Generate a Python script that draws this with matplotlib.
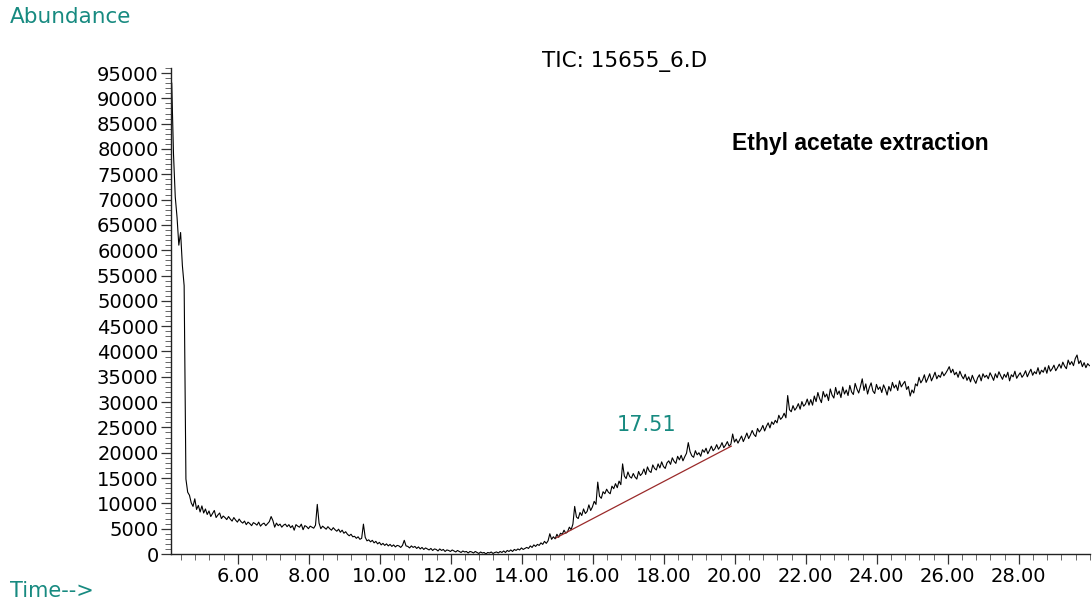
#!/usr/bin/env python
# -*- coding: utf-8 -*-

import numpy as np
import matplotlib
matplotlib.use( 'Agg' )
import matplotlib.pyplot as plt
from matplotlib.ticker import FixedLocator, MultipleLocator, FormatStrFormatter

# scan times: first scan and spacing in minutes
t_first = 4.14
t_step = 0.05

# total ion current, thousands of counts, one row per minute of run
abundance_k = [
    93.0, 79.0, 70.5, 66.5, 61.0, 63.5, 57.0, 53.0, 14.8, 12.2, 11.6, 10.1, 9.4, 10.9, 8.8, 9.6, 8.3, 9.5, 8.1, 8.9,
    7.8, 8.5, 7.4, 8.0, 8.6, 7.2, 7.7, 8.1, 7.0, 7.5, 7.2, 6.8, 7.4, 6.9, 6.5, 7.2, 6.7, 6.3, 6.9, 6.4,
    6.1, 6.5, 5.8, 6.3, 6.0, 5.6, 6.2, 6.0, 5.7, 6.3, 5.5, 5.9, 6.1, 5.6, 6.0, 6.4, 7.4, 6.6, 5.3, 6.1,
    5.6, 5.9, 5.3, 5.7, 5.9, 5.4, 5.8, 5.2, 5.6, 4.7, 5.8, 5.5, 5.3, 5.9, 4.8, 5.6, 5.4, 5.0, 5.5, 5.3,
    5.1, 5.7, 9.8, 6.1, 5.0, 5.5, 5.2, 4.9, 5.4, 5.0, 4.7, 5.2, 4.8, 4.5, 4.9, 4.3, 4.7, 4.1, 4.4, 3.9,
    3.6, 3.9, 3.4, 3.5, 3.1, 3.4, 2.9, 3.1, 5.9, 3.3, 2.6, 2.8, 2.4, 2.7, 2.2, 2.5, 2.0, 2.3, 1.8, 2.1,
    1.7, 2.0, 1.6, 1.9, 1.5, 1.8, 1.4, 1.7, 1.6, 1.3, 1.7, 2.7, 1.6, 1.5, 1.2, 1.6, 1.3, 1.5, 1.1, 1.4,
    1.0, 1.3, 0.9, 1.2, 1.0, 0.8, 1.1, 0.7, 1.0, 0.9, 0.6, 1.0, 0.7, 0.9, 0.5, 0.8, 0.7, 0.5, 0.8, 0.6,
    0.4, 0.7, 0.5, 0.3, 0.6, 0.4, 0.5, 0.2, 0.5, 0.4, 0.2, 0.5, 0.3, 0.1, 0.4, 0.2, 0.3, 0.0, 0.3, 0.2,
    0.4, 0.1, 0.3, 0.4, 0.2, 0.5, 0.3, 0.6, 0.3, 0.7, 0.5, 0.8, 0.5, 0.9, 0.7, 1.0, 0.8, 1.2, 0.9, 1.1,
    1.3, 1.1, 1.6, 1.3, 1.8, 1.5, 1.9, 1.7, 2.2, 1.9, 2.5, 2.1, 2.6, 4.0, 2.9, 3.4, 3.0, 3.9, 3.3, 4.1,
    3.9, 4.7, 4.1, 4.4, 5.3, 4.8, 5.9, 9.4, 7.3, 7.0, 8.2, 7.6, 8.9, 8.0, 8.4, 9.7, 8.6, 9.3, 10.4, 9.8,
    14.2, 11.4, 11.0, 12.3, 11.9, 12.8, 12.2, 11.9, 13.4, 12.9, 13.9, 13.1, 14.4, 13.7, 17.8, 15.4, 14.9, 16.2, 15.3, 15.0,
    15.9, 15.2, 14.8, 16.3, 15.5, 15.9, 16.8, 15.7, 17.2, 16.4, 16.1, 17.6, 16.9, 16.6, 17.8, 17.0, 18.2, 17.3, 16.9, 18.0,
    18.4, 17.7, 19.0, 18.3, 17.9, 19.3, 18.6, 19.5, 18.4, 19.2, 19.9, 22.0, 20.2, 19.4, 19.1, 20.4, 19.6, 20.0, 19.3, 20.6,
    20.1, 20.9, 19.8, 20.5, 21.3, 20.4, 20.8, 21.6, 20.7, 21.2, 22.0, 21.0, 21.5, 22.2, 21.3, 21.7, 23.7, 22.1, 22.7, 21.9,
    22.6, 23.3, 22.2, 23.0, 23.9, 22.8, 23.5, 24.4, 23.6, 23.2, 24.8, 24.1, 24.6, 25.4, 24.3, 25.2, 25.9, 24.9, 26.1, 25.6,
    26.4, 25.9, 27.4, 26.6, 27.0, 27.8, 26.9, 31.3, 28.5, 28.1, 29.3, 28.4, 28.9, 29.7, 28.6, 30.1, 29.2, 29.6, 30.6, 29.4,
    30.5, 29.4, 31.2, 30.1, 31.9, 30.7, 29.9, 32.1, 31.0, 31.6, 30.3, 32.6, 31.4, 30.8, 32.9, 31.5, 32.2, 30.9, 33.0, 31.6,
    32.4, 31.3, 33.3, 32.0, 31.5, 33.7, 32.6, 31.8, 33.1, 34.6, 32.3, 33.6, 31.6, 32.9, 33.8, 32.2, 31.7, 33.5, 32.5, 33.0,
    31.9, 33.4, 32.6, 31.4, 33.1, 32.2, 33.9, 32.8, 33.4, 32.3, 34.2, 33.0, 33.6, 34.1, 32.5, 33.1, 31.2, 32.4, 31.8, 33.6,
    33.2, 34.9, 33.8, 34.4, 35.4, 33.9, 34.7, 35.6, 34.2, 35.0, 35.9, 34.6, 35.3, 34.9, 36.0, 35.2, 35.7, 36.3, 37.0, 35.8,
    36.5, 35.4, 35.9, 34.9, 36.1, 35.2, 34.6, 35.5, 34.3, 35.0, 34.0, 35.3, 34.4, 33.7, 34.8, 35.4, 34.2, 35.6, 34.9, 35.3,
    34.6, 35.8, 35.1, 34.3, 35.6, 34.8, 36.0, 35.2, 34.5, 35.5, 34.9, 35.9, 34.2, 35.4, 35.0, 36.1, 34.7, 35.3, 35.8, 34.9,
    35.4, 36.2, 35.0, 35.8, 36.5, 35.3, 36.0, 35.6, 36.8, 35.5, 36.3, 35.9, 36.9, 35.7, 37.2, 36.1, 36.6, 37.3, 36.2, 36.8,
    37.5, 36.7, 37.9, 37.1, 36.6, 38.3, 37.4, 38.0, 37.2, 38.6, 39.3, 37.6, 38.2, 37.0, 37.8, 36.8, 37.6, 37.2,
]

# integration baseline of the 17.51 peak (minutes, counts)
baseline_t = [ 14.97, 19.90 ]
baseline_v = [ 3200, 21300 ]

peak_rt = 17.51
peak_label_v = 25500

time_ticks = [ 6, 8, 10, 12, 14, 16, 18, 20, 22, 24, 26, 28 ]
abund_ticks = list( range( 0, 95001, 5000 ) )

TEAL = '#178a80'

def main():
    plt.rcParams['font.family'] = [ 'DejaVu Sans' ]

    v = np.array( abundance_k ) * 1000.0
    t = t_first + t_step * np.arange( len( v ) )

    fig = plt.figure( figsize=( 10.92, 6.01 ), dpi=100 )
    ax = fig.add_axes( [ 0.1566, 0.0782, 0.8414, 0.8087 ] )

    ax.plot( t, v, color='black', linewidth=0.8 )
    ax.plot( baseline_t, baseline_v, color='#9a2a2a', linewidth=0.9 )

    ax.set_xlim( 4.12, 30.0 )
    ax.set_ylim( 0, 96000 )

    for side in ( 'top', 'right' ):
        ax.spines[side].set_visible( False )
    for side in ( 'left', 'bottom' ):
        ax.spines[side].set_linewidth( 1.0 )
        ax.spines[side].set_color( '#222222' )

    ax.xaxis.set_major_locator( FixedLocator( time_ticks ) )
    ax.xaxis.set_major_formatter( FormatStrFormatter( '%.2f' ) )
    ax.xaxis.set_minor_locator( MultipleLocator( 0.4 ) )
    ax.yaxis.set_major_locator( FixedLocator( abund_ticks ) )
    ax.yaxis.set_major_formatter( FormatStrFormatter( '%d' ) )
    ax.yaxis.set_minor_locator( MultipleLocator( 1000 ) )

    ax.tick_params( axis='both', which='major', labelsize=14, length=7, width=0.9,
                    color='#333333', pad=2 )
    ax.tick_params( axis='both', which='minor', length=4, width=0.7, color='#666666' )

    fig.text( 0.009, 0.972, 'Abundance', color=TEAL, fontsize=15.5, va='center', ha='left' )
    fig.text( 0.009, 0.017, 'Time-->', color=TEAL, fontsize=15, va='center', ha='left' )
    fig.text( 0.572, 0.897, 'TIC: 15655_6.D', color='black', fontsize=15.5, va='center', ha='center' )
    fig.text( 0.7875, 0.762, 'Ethyl acetate extraction', color='black', fontsize=16.5,
              fontweight='bold', family=[ 'Liberation Sans', 'DejaVu Sans' ],
              va='center', ha='center' )
    ax.text( peak_rt, peak_label_v, '%.2f' % peak_rt, color=TEAL, fontsize=15,
             va='center', ha='center' )

    fig.savefig( 'out.png', dpi=100 )


if( __name__ == "__main__" ):
    main()
